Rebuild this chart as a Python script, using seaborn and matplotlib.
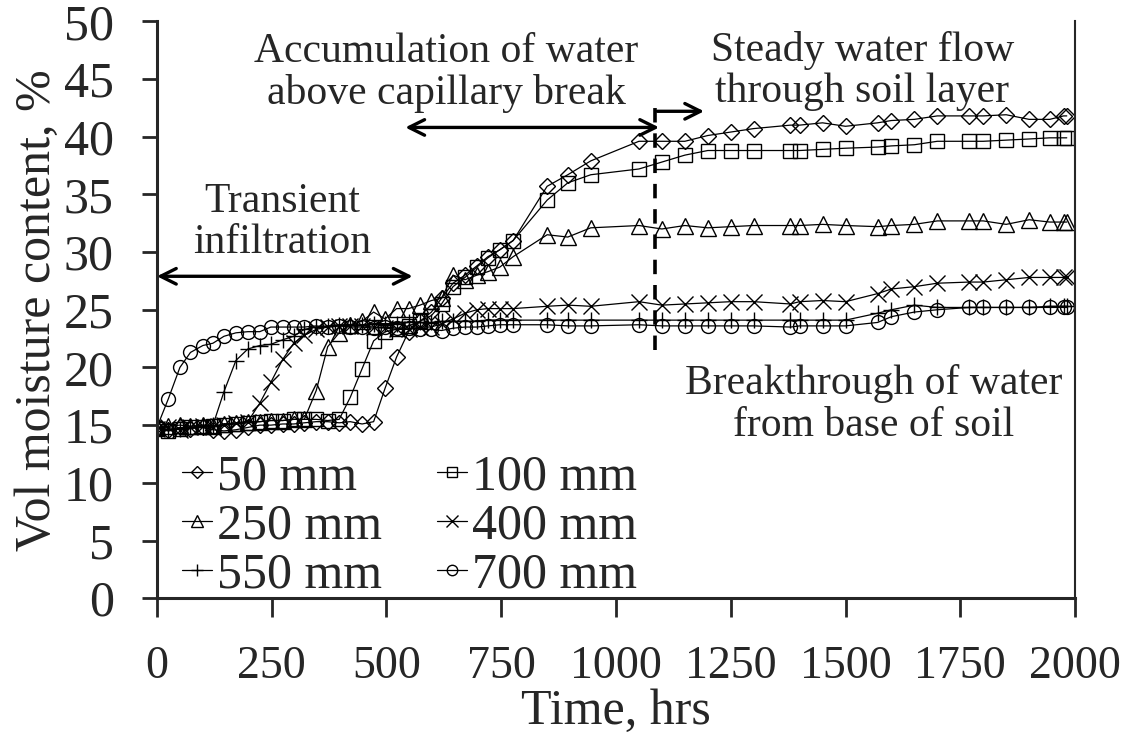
import matplotlib
matplotlib.use("Agg")
import matplotlib.pyplot as plt
import pandas as pd
import seaborn as sns

# sampling times (hrs): daily readings early on, sparser later
early_hrs = [0, 25, 50, 73, 100, 122, 146, 172, 198, 224, 248, 274, 298, 321, 347, 372,
             397, 421, 447, 472, 497, 522, 548, 573, 598, 620, 645, 671, 697, 721, 747, 776]
late_hrs = [850, 895, 945, 1050, 1100, 1150, 1200, 1250, 1300, 1380, 1400, 1450, 1500,
            1570, 1600, 1650, 1700, 1770, 1800, 1850, 1900, 1945, 1975, 1982]
hrs = early_hrs + late_hrs

# volumetric moisture content (%) per sensor depth
vmc_50 = [14.7, 14.6, 14.8, 14.7, 14.8, 14.6, 14.5, 14.6, 14.8, 15.0,
          15.0, 15.1, 15.1, 15.2, 15.3, 15.3, 15.2, 15.3, 15.1, 15.3,
          18.2, 20.9, 23.1, 24.0, 24.8, 26.0, 27.3, 28.0, 28.8, 29.6, 30.2, 31.0,
          35.7, 36.7, 37.9, 39.6, 39.6, 39.6, 40.1, 40.4, 40.7, 41.0, 41.0, 41.2,
          40.9, 41.2, 41.4, 41.5, 41.8, 41.8, 41.8, 41.9, 41.5, 41.5, 41.8, 41.8]
vmc_100 = [14.7, 14.5, 14.7, 14.8, 14.8, 14.9, 15.0, 15.1, 15.2, 15.3,
           15.4, 15.4, 15.5, 15.5, 15.5, 15.4, 15.5, 17.4, 19.9, 22.3,
           23.1, 23.3, 23.6, 24.0, 24.5, 25.5, 27.0, 27.8, 28.7, 29.5, 30.2, 31.0,
           34.5, 36.0, 36.7, 37.2, 37.8, 38.4, 38.8, 38.8, 38.8, 38.8, 38.8, 38.9,
           39.0, 39.1, 39.2, 39.3, 39.6, 39.6, 39.6, 39.7, 39.8, 39.9, 39.9, 39.9]
vmc_250 = [14.8, 14.9, 15.0, 14.9, 15.0, 14.9, 15.1, 15.2, 15.3, 15.3,
           15.4, 15.4, 15.5, 15.5, 18.0, 21.8, 23.0, 23.7, 24.0, 24.8,
           24.2, 25.1, 25.1, 25.4, 25.8, 26.0, 28.0, 27.6, 28.0, 28.3, 28.7, 29.6,
           31.5, 31.3, 32.1, 32.3, 32.0, 32.3, 32.1, 32.2, 32.3, 32.3, 32.3, 32.4,
           32.3, 32.2, 32.3, 32.4, 32.7, 32.7, 32.7, 32.4, 32.8, 32.6, 32.6, 32.6]
vmc_400 = [14.7, 14.8, 14.6, 14.8, 14.9, 14.8, 15.0, 15.2, 15.3, 16.9,
           18.7, 20.7, 22.1, 22.8, 23.3, 23.5, 23.6, 23.6, 23.6, 23.5,
           23.4, 23.3, 23.3, 23.5, 23.5, 23.8, 24.2, 24.7, 25.0, 25.1, 25.1, 25.1,
           25.3, 25.4, 25.3, 25.7, 25.4, 25.5, 25.6, 25.7, 25.7, 25.5, 25.7, 25.8,
           25.7, 26.4, 26.8, 27.0, 27.3, 27.4, 27.4, 27.6, 27.8, 27.8, 27.8, 27.8]
vmc_550 = [14.8, 14.6, 14.7, 14.8, 14.9, 15.0, 17.9, 20.6, 21.6, 21.9,
           22.0, 22.4, 22.7, 23.3, 23.5, 23.6, 23.7, 23.7, 23.7, 23.8,
           23.8, 23.8, 23.9, 23.9, 23.9, 24.0, 24.0, 24.0, 24.0, 24.1, 24.1, 24.1,
           24.1, 24.1, 24.1, 24.1, 24.1, 24.1, 24.1, 24.1, 24.1, 24.1, 24.1, 24.1,
           24.1, 24.7, 25.0, 25.4, 25.2, 25.2, 25.2, 25.2, 25.2, 25.3, 25.3, 25.3]
vmc_700 = [14.8, 17.3, 20.0, 21.3, 21.9, 22.1, 22.7, 23.0, 23.1, 23.1,
           23.5, 23.5, 23.5, 23.5, 23.6, 23.5, 23.6, 23.5, 23.5, 23.4,
           23.5, 23.4, 23.4, 23.3, 23.3, 23.2, 23.4, 23.5, 23.5, 23.6, 23.7, 23.7,
           23.7, 23.6, 23.6, 23.7, 23.6, 23.6, 23.6, 23.6, 23.6, 23.5, 23.6, 23.6,
           23.6, 23.9, 24.4, 24.8, 25.0, 25.2, 25.2, 25.2, 25.2, 25.2, 25.2, 25.2]

depths = ["50 mm", "100 mm", "250 mm", "400 mm", "550 mm", "700 mm"]
series = [vmc_50, vmc_100, vmc_250, vmc_400, vmc_550, vmc_700]
markers = ["D", "s", "^", "x", "+", "o"]
msizes = [8, 10, 11, 11, 12, 10]

df = pd.concat([pd.DataFrame({"hrs": hrs, "vmc": v, "depth": d})
                for d, v in zip(depths, series)], ignore_index=True)

sns.set_style("ticks")
plt.rcParams["font.family"] = ["Liberation Serif", "DejaVu Serif"]
plt.rcParams["font.size"] = 36

fig = plt.figure(figsize=(11.34, 7.34), dpi=100)
ax = fig.add_axes([0.1384, 0.185, 0.8096, 0.786])

for d, m, ms in zip(depths, markers, msizes):
    sns.lineplot(data=df[df["depth"] == d], x="hrs", y="vmc", ax=ax, color="black",
                 lw=0.9, marker=m, markersize=ms, markerfacecolor="none",
                 markeredgecolor="black", markeredgewidth=1.0, label=d)

ax.set_xlim(0, 2000)
ax.set_ylim(0, 50)
ax.set_xticks(range(0, 2001, 250))
ax.set_yticks(range(0, 51, 5))
ax.set_xlabel("Time, hrs", fontsize=36, labelpad=0)
ax.set_ylabel("Vol moisture content, %", fontsize=36, labelpad=2)
ax.tick_params(axis="x", direction="out", length=14, width=2, pad=20, labelsize=33)
ax.tick_params(axis="y", direction="out", length=11, width=2, pad=20, labelsize=36)
for s in ["left", "bottom"]:
    ax.spines[s].set_linewidth(2.2)
ax.spines["right"].set_linewidth(1.5)
ax.spines["top"].set_visible(False)

# annotations
ax.plot([1086, 1086], [21.5, 43.2], color="black", lw=2.6, ls=(0, (4, 3)))
arr = dict(arrowstyle="<->", lw=2.4, color="black", mutation_scale=28, shrinkA=0, shrinkB=0)
ax.annotate("", xy=(0, 27.9), xytext=(557, 27.9), arrowprops=arr)
ax.annotate("", xy=(541, 40.8), xytext=(1094, 40.8), arrowprops=arr)
ax.annotate("", xy=(1192, 42.2), xytext=(1090, 42.2),
            arrowprops=dict(arrowstyle="->", lw=2.4, color="black", mutation_scale=28,
                            shrinkA=0, shrinkB=0))
tkw = dict(ha="center", va="center", fontsize=30, linespacing=1.1)
ax.text(272, 32.6, "Transient\ninfiltration", **tkw)
ax.text(631, 45.5, "Accumulation of water\nabove capillary break", **tkw)
ax.text(1537, 45.7, "Steady water flow\nthrough soil layer", **tkw)
ax.text(1561, 16.8, "Breakthrough of water\nfrom base of soil", **tkw)

h, l = ax.get_legend_handles_labels()
order = [0, 2, 4, 1, 3, 5]
ax.legend([h[i] for i in order], [l[i] for i in order], ncol=2, loc="lower left",
          bbox_to_anchor=(0.006, -0.035), frameon=False, fontsize=36, handlelength=0.6,
          handletextpad=0.1, columnspacing=1.1, labelspacing=0.05, borderaxespad=0,
          markerscale=0.75)

fig.savefig("out.png", dpi=100)
